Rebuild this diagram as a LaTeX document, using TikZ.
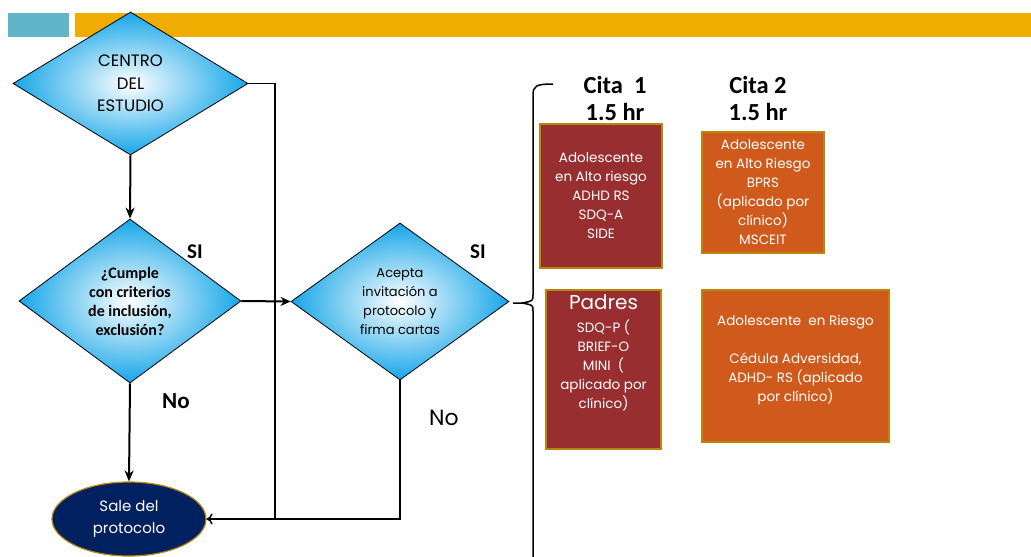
\documentclass[tikz,border=0pt]{standalone}
\usepackage{fontspec}
\setmainfont{Poppins}
\newfontfamily\calib{Carlito}
\usetikzlibrary{shapes.geometric,arrows.meta}
\definecolor{barteal}{RGB}{98,180,200}
\definecolor{bargold}{RGB}{240,173,0}
\definecolor{diamcyan}{RGB}{22,166,232}
\definecolor{citared}{RGB}{153,46,48}
\definecolor{citaorange}{RGB}{208,90,28}
\definecolor{boxgold}{RGB}{184,134,11}
\definecolor{navy}{RGB}{0,32,96}
\tikzset{
  decision/.style={diamond,draw,line width=0.8pt,shading=radial,inner color=white,
    outer color=diamcyan,inner sep=0pt,align=center},
  citabox/.style={draw=boxgold,line width=1.2pt,inner sep=0pt,text=white,align=center,
    font=\fontsize{13.5}{19}\selectfont},
  citatext/.style={text=white,align=center,inner sep=0pt,font=\fontsize{13.5}{19}\selectfont},
  answer/.style={font=\calib\bfseries\fontsize{21}{21}\selectfont},
  heading/.style={font=\calib\bfseries\fontsize{24.5}{27}\selectfont,align=center}
}
\begin{document}
\begin{tikzpicture}[x=1pt,y=-1pt]
  \useasboundingbox (0,0) rectangle (1031,557);
  \fill[barteal] (8,13) rectangle (69,37);
  \fill[bargold] (75,13) rectangle (1031,37);
  % decisions
  \node[decision,minimum width=235,minimum height=143,font=\fontsize{16.5}{22.5}\selectfont] (centro) at (130.5,83.5) {CENTRO\\DEL\\ESTUDIO};
  \node[decision,minimum width=222,minimum height=164,font=\calib\bfseries\fontsize{16}{19}\selectfont] (cumple) at (130,301) {¿Cumple\\con criterios\\de inclusión,\\exclusión?};
  \node[decision,minimum width=218,minimum height=157,font=\fontsize{13}{19.3}\selectfont] (acepta) at (400,301.5) {Acepta\\invitación a\\protocolo y\\firma cartas};
  \node[ellipse,fill=navy,draw=boxgold,line width=1.2pt,minimum width=154,minimum height=74,text=white,align=center,font=\fontsize{15}{22}\selectfont] (sale) at (129,519) {Sale del\\protocolo};
  \coordinate (junta) at (275,519);
  % connectors
  \draw[->,>={Stealth[length=11pt,width=9pt]},line width=2pt] (centro.south) -- (cumple.north);
  \draw[->,>={Stealth[length=10pt,width=9pt]},line width=2pt] (cumple.east) -- (acepta.west);
  \draw[->,>={Stealth[length=11pt,width=9pt]},line width=2pt] (cumple.south) -- (sale.north);
  \draw[line width=1.5pt] (centro.east) -| (junta);
  \draw[->,>={To[length=6pt,width=11pt]},line width=1.5pt] (acepta.south) |- (sale.east);
  \node[answer] (si1) at (195,252) {SI};
  \node[answer] (si2) at (478,252) {SI};
  \node[answer,font=\calib\bfseries\fontsize{23}{23}\selectfont] (no1) at (176,401) {No};
  \node[font=\fontsize{22}{22}\selectfont] (no2) at (444,418) {No};
  % brace
  \coordinate (btip) at (513,303);
  \draw[line width=1.5pt] (553,84) .. controls (536,84) and (533,86) .. (533,95) -- (533,295)
    .. controls (533,301) .. (522,303) -- (btip);
  \draw[line width=1.5pt] (522,303) .. controls (533,305) .. (533,311) -- (533,560);
  % citas
  \node[heading] (cita1) at (615,98) {Cita~~1\\1.5 hr};
  \node[heading] (cita2) at (758,98) {Cita 2\\1.5 hr};
  \node[citabox,fill=citared,minimum width=122,minimum height=144] (adolA) at (601,196)
    {Adolescente\\en Alto riesgo\\ADHD RS\\SDQ-A\\SIDE};
  \node[citabox,fill=citaorange,minimum width=122,minimum height=121] (adolB) at (763,192.5)
    {Adolescente\\en Alto Riesgo\\BPRS\\(aplicado por\\clínico)\\MSCEIT};
  \node[citabox,fill=citared,minimum width=115,minimum height=159] (padres) at (603.5,369.5) {};
  \node[citatext,anchor=north] (padrestxt) at ([yshift=-5pt]padres.north)
    {{\fontsize{20}{24}\selectfont Padres}\\[4pt]SDQ-P (\\BRIEF-O\\MINI~~(\\aplicado por\\clínico)};
  \node[citabox,fill=citaorange,minimum width=187,minimum height=152] (adolD) at (795.5,366) {};
  \node[citatext] (adolDtxt) at ([yshift=6pt]adolD.center)
    {Adolescente~~en Riesgo\\[19pt]Cédula Adversidad,\\ADHD- RS (aplicado\\por clínico)};
\end{tikzpicture}
\end{document}
